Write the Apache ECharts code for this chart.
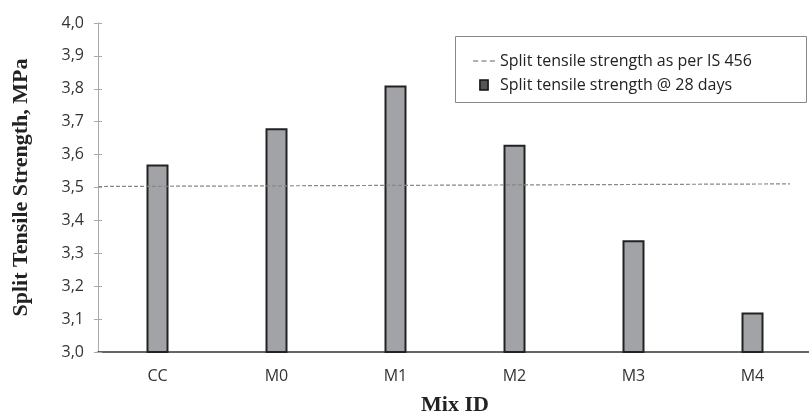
<!DOCTYPE html>
<html><head><meta charset="utf-8">
<script src="https://cdn.jsdelivr.net/npm/echarts@6/dist/echarts.min.js"></script>
<style>html,body{margin:0;padding:0;background:#fff}#c{width:809px;height:414px}</style>
</head><body><div id="c"></div>
<script>
var categories = ['CC', 'M0', 'M1', 'M2', 'M3', 'M4'];
var strength28 = [3.57, 3.68, 3.81, 3.63, 3.34, 3.12];
var isLineX = [0, 5.815];
var isLineY = [3.503, 3.511];
var yTicks = [3.0, 3.1, 3.2, 3.3, 3.4, 3.5, 3.6, 3.7, 3.8, 3.9, 4.0];

var chart = echarts.init(document.getElementById('c'));
var F = '"Open Sans", sans-serif';
var S = '"Liberation Serif", "Times New Roman", serif';
var yMin = yTicks[0], yMax = yTicks[yTicks.length - 1];
chart.setOption({
  animation: false,
  grid: { left: 98, top: 23, width: 714, height: 329, containLabel: false, outerBoundsMode: 'none' },
  xAxis: [{
    type: 'category', data: categories,
    axisLine: { lineStyle: { color: '#333', width: 1.5 } },
    axisTick: { alignWithLabel: true, length: 4, lineStyle: { color: '#333' } },
    axisLabel: { color: '#333', fontSize: 16, fontFamily: F, margin: 16 },
    name: 'Mix ID', nameLocation: 'middle', nameGap: 42,
    nameTextStyle: { fontFamily: S, fontWeight: 'bold', fontSize: 22, color: '#222' }
  }, {
    type: 'value', min: 0, max: 6, show: false
  }],
  yAxis: [{
    type: 'value', min: yMin, max: yMax, interval: 0.1,
    axisLine: { show: true, lineStyle: { color: '#aaa' } },
    axisTick: { show: true, length: 4, lineStyle: { color: '#aaa' } },
    splitLine: { show: false },
    axisLabel: { color: '#333', fontSize: 16, fontFamily: F, margin: 14,
      formatter: function (v) { return v.toFixed(1).replace('.', ','); } },
    name: 'Split Tensile Strength, MPa', nameLocation: 'middle', nameGap: 66,
    nameTextStyle: { fontFamily: S, fontWeight: 'bold', fontSize: 22, color: '#222' }
  }, {
    type: 'value', min: yMin, max: yMax, interval: 0.1, position: 'left', offset: 0,
    axisLine: { show: false },
    axisTick: { show: true, inside: true, length: 4, lineStyle: { color: '#aaa' } },
    axisLabel: { show: false }, splitLine: { show: false }
  }],
  legend: {
    orient: 'vertical', left: 468, top: 48, itemGap: 8, itemWidth: 22, itemHeight: 10,
    textStyle: { fontFamily: F, fontSize: 16, color: '#222' },
    data: [
      { name: 'Split tensile strength as per IS 456',
        icon: 'path://M0,0 h5 v1.2 h-5 Z M8,0 h5 v1.2 h-5 Z M16,0 h5 v1.2 h-5 Z',
        itemStyle: { color: '#999', borderWidth: 0 } },
      { name: 'Split tensile strength @ 28 days', icon: 'path://M0,0 L9,0 L9,11 L0,11 Z',
        itemStyle: { color: '#555', borderColor: '#111', borderWidth: 1.5 } }
    ]
  },
  graphic: [{
    type: 'rect', left: 453, top: 34, shape: { width: 351, height: 66 },
    style: { fill: 'none', stroke: '#888', lineWidth: 1 }, z: 10
  }],
  series: [{
    name: 'Split tensile strength @ 28 days', type: 'bar', data: strength28,
    barWidth: 22,
    itemStyle: { color: '#a2a3a7', borderColor: '#222', borderWidth: 2 }
  }, {
    name: 'Split tensile strength as per IS 456', type: 'line', xAxisIndex: 1,
    data: isLineX.map(function (x, i) { return [x, isLineY[i]]; }),
    symbol: 'none', lineStyle: { color: '#888', width: 1.2, type: [4, 2] }, z: 5
  }]
});
</script></body></html>
